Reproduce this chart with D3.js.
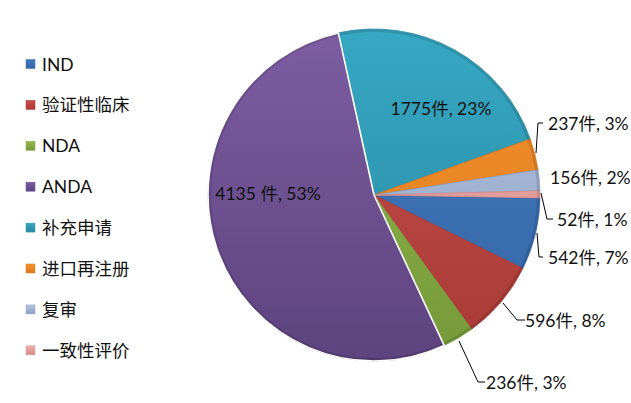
<!DOCTYPE html>
<html><head><meta charset="utf-8">
<script src="https://cdn.jsdelivr.net/npm/d3@7"></script>
<style>body{margin:0;background:#fff}svg{display:block}</style>
</head><body>
<svg id="c" width="631" height="403"></svg>
<script>
const categories = ["IND","验证性临床","NDA","ANDA","补充申请","进口再注册","复审","一致性评价"];
const values = [542,596,236,4135,1775,237,156,52];
const labels = ["542件, 7%","596件, 8%","236件, 3%","4135 件, 53%","1775件, 23%","237件, 3%","156件, 2%","52件, 1%"];
const colorsTop = ["#4479bf","#c84f4b","#93b94b","#7e5da3","#36a8c4","#f7932e","#b4c6e0","#f0b2b1"];
const colorsBot = ["#3366a6","#a83a36","#76993a","#5d447e","#2a889f","#d8761c","#8a9ec2","#d48886"];
const legendColors = ["#3a6fb0","#b53a36","#86a83e","#6a4d8f","#2f9ab5","#e07d22","#8ea4c9","#d99896"];

const W=631,H=403, cx=374, cy=195, R=166;
const svg=d3.select("#c");
const defs=svg.append("defs");
categories.forEach((c,i)=>{
  const g=defs.append("linearGradient").attr("id","g"+i).attr("gradientUnits","userSpaceOnUse")
    .attr("x1",0).attr("y1",-R).attr("x2",0).attr("y2",R);
  g.append("stop").attr("offset","0%").attr("stop-color",colorsTop[i]);
  g.append("stop").attr("offset","100%").attr("stop-color",colorsBot[i]);
  const lg=defs.append("linearGradient").attr("id","lg"+i).attr("x1",0).attr("y1",0).attr("x2",0).attr("y2",1);
  lg.append("stop").attr("offset","0%").attr("stop-color",colorsTop[i]);
  lg.append("stop").attr("offset","100%").attr("stop-color",colorsBot[i]);
});
const start = 91*Math.PI/180;
const pie=d3.pie().sort(null).value(d=>d).startAngle(start).endAngle(start+2*Math.PI);
const arcs=pie(values);
const arc=d3.arc().innerRadius(0).outerRadius(R);
const g=svg.append("g").attr("transform",`translate(${cx},${cy})`);
g.selectAll("path.s").data(arcs).join("path").attr("class","s")
  .attr("d",arc)
  .attr("fill",(d,i)=>`url(#g${i})`)
  .attr("stroke",(d,i)=>colorsBot[i]).attr("stroke-width",0.8).attr("stroke-linejoin","round");
// inner bevel edge
g.selectAll("path.edge").data(arcs).join("path").attr("class","edge")
  .attr("d",d3.arc().innerRadius(R-3).outerRadius(R-0.5))
  .attr("fill","rgba(0,0,0,0.12)");
// white separation around the large ANDA slice
g.append("path").datum(arcs[3]).attr("d",arc).attr("fill","none")
  .attr("stroke","#fff").attr("stroke-width",1.6).attr("stroke-linejoin","round");

const font="Lato,'Noto Sans CJK SC',sans-serif";
const labelPos=[
  {x:548,y:257,anchor:"start",lead:[[-11,-24],[-9,0],[-5,0]]},
  {x:525,y:320,anchor:"start",lead:[[-22,-17],[-8,0],[0,0]]},
  {x:486,y:382,anchor:"start",lead:[[-27,-41],[-8,0],[-1,0]]},
  {x:268,y:193,anchor:"middle"},
  {x:441,y:108,anchor:"middle"},
  {x:548,y:123,anchor:"start",lead:[[-12,30],[-10,0],[-5,0]]},
  {x:550,y:177,anchor:"start"},
  {x:557,y:219,anchor:"start",lead:[[-16,-26],[-10,0],[-4,0]]}
];
labelPos.forEach((p,i)=>{
  if(p.lead){
    const pts=p.lead.map(o=>[p.x+o[0],p.y+o[1]]);
    svg.append("path").attr("d",d3.line()(pts)).attr("fill","none").attr("stroke","#000").attr("stroke-width",1);
  }
  svg.append("text").attr("x",p.x).attr("y",p.y).attr("text-anchor",p.anchor)
    .attr("dominant-baseline","central")
    .attr("font-family",font).attr("font-size",17.5).attr("fill","#111").text(labels[i]);
});

const leg=svg.append("g");
categories.forEach((c,i)=>{
  const y=64+i*40.9;
  leg.append("rect").attr("x",26).attr("y",y-4.5).attr("width",9).attr("height",9)
    .attr("fill",`url(#lg${i})`).attr("stroke",legendColors[i]).attr("stroke-width",0.5);
  leg.append("text").attr("x",42).attr("y",y).attr("dominant-baseline","central")
    .attr("font-family",font).attr("font-size",17.5).attr("fill","#111").text(c);
});
</script>
</body></html>
